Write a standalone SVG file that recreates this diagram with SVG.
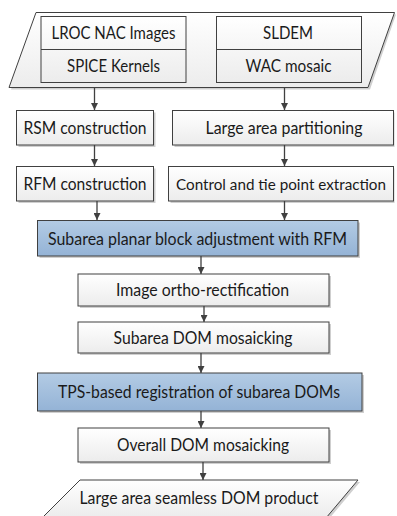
<svg xmlns="http://www.w3.org/2000/svg" width="397" height="516" viewBox="0 0 397 516">
<defs>
<linearGradient id="gw" x1="0" y1="0" x2="0" y2="1">
<stop offset="0" stop-color="#ffffff"/>
<stop offset="1" stop-color="#ececec"/>
</linearGradient>
<linearGradient id="gb" x1="0" y1="0" x2="0" y2="1">
<stop offset="0" stop-color="#b3cbe4"/>
<stop offset="1" stop-color="#94b3d6"/>
</linearGradient>
<marker id="ah" viewBox="0 0 10 10" refX="10" refY="5" markerWidth="7" markerHeight="7" markerUnits="userSpaceOnUse" orient="auto">
<path d="M0,0 L10,5 L0,10 Z" fill="#404040"/>
</marker>
</defs>
<style>
.box{fill:url(#gw);stroke:#404040;stroke-width:1}
.blue{fill:url(#gb);stroke:#404040;stroke-width:1}
.sh{fill:#cfcfcf}
.t{font-family:Lato,"Liberation Sans",sans-serif;font-size:17px;fill:#1a1a1a;text-anchor:middle}
.c{stroke:#404040;stroke-width:1.3;fill:none;marker-end:url(#ah)}
</style>
<rect width="397" height="516" fill="#ffffff"/>

<g id="inputs">
<polygon class="sh" points="38,14.5 396,14.5 370,89.5 11,89.5"/>
<polygon class="box" points="36,12.5 394.5,12.5 368,87.5 9,87.5"/>
<rect class="box" x="41" y="16.5" width="145" height="66"/>
<line x1="41" y1="49.5" x2="186" y2="49.5" stroke="#404040"/>
<rect class="box" x="216.5" y="16.5" width="145" height="66"/>
<line x1="216.5" y1="49.5" x2="361.5" y2="49.5" stroke="#404040"/>
<text class="t" x="113.5" y="39" textLength="124" lengthAdjust="spacingAndGlyphs">LROC NAC Images</text>
<text class="t" x="113.5" y="72" textLength="93" lengthAdjust="spacingAndGlyphs">SPICE Kernels</text>
<text class="t" x="288" y="39" textLength="50" lengthAdjust="spacingAndGlyphs">SLDEM</text>
<text class="t" x="288.5" y="72" textLength="86" lengthAdjust="spacingAndGlyphs">WAC mosaic</text>
</g>

<g id="rsm">
<rect class="sh" x="18.5" y="112.5" width="137" height="34.5"/>
<rect class="box" x="16.5" y="110.5" width="137" height="34.5"/>
<text class="t" x="85" y="133.5" textLength="123" lengthAdjust="spacingAndGlyphs">RSM construction</text>
</g>
<g id="partition">
<rect class="sh" x="174.5" y="112.5" width="220" height="34.5"/>
<rect class="box" x="172.5" y="110.5" width="221" height="34.5"/>
<text class="t" x="284" y="133.5" textLength="157" lengthAdjust="spacingAndGlyphs">Large area partitioning</text>
</g>
<g id="rfm">
<rect class="sh" x="18.5" y="168.5" width="137" height="34.5"/>
<rect class="box" x="16.5" y="166.5" width="137" height="34.5"/>
<text class="t" x="85" y="189.5" textLength="123" lengthAdjust="spacingAndGlyphs">RFM construction</text>
</g>
<g id="control">
<rect class="sh" x="170.5" y="168.5" width="224" height="34.5"/>
<rect class="box" x="168.5" y="166.5" width="225" height="34.5"/>
<text class="t" x="281" y="189.5" style="font-size:15.5px" textLength="210" lengthAdjust="spacingAndGlyphs">Control and tie point extraction</text>
</g>
<g id="adjust">
<rect class="sh" x="39.5" y="222.5" width="320.5" height="35.5"/>
<rect class="blue" x="37.5" y="220.5" width="320.5" height="35.5"/>
<text class="t" x="197.5" y="245" textLength="299" lengthAdjust="spacingAndGlyphs">Subarea planar block adjustment with RFM</text>
</g>
<g id="ortho">
<rect class="sh" x="80" y="276" width="251" height="32"/>
<rect class="box" x="78" y="274" width="251" height="32"/>
<text class="t" x="202.5" y="296" textLength="173" lengthAdjust="spacingAndGlyphs">Image ortho-rectification</text>
</g>
<g id="submosaic">
<rect class="sh" x="80" y="324" width="251" height="31"/>
<rect class="box" x="78" y="322" width="251" height="31"/>
<text class="t" x="203" y="344" textLength="179" lengthAdjust="spacingAndGlyphs">Subarea DOM mosaicking</text>
</g>
<g id="tps">
<rect class="sh" x="39.5" y="375" width="324.5" height="38"/>
<rect class="blue" x="37.5" y="373" width="324.5" height="38"/>
<text class="t" x="199" y="397.5" textLength="282" lengthAdjust="spacingAndGlyphs">TPS-based registration of subarea DOMs</text>
</g>
<g id="overall">
<rect class="sh" x="80" y="430" width="251" height="34"/>
<rect class="box" x="78" y="428" width="251" height="34"/>
<text class="t" x="203" y="450.5" textLength="172" lengthAdjust="spacingAndGlyphs">Overall DOM mosaicking</text>
</g>
<g id="product">
<polygon class="sh" points="82,482 360,482 328,520 44,520"/>
<polygon class="box" points="80,480 358,480 326,518 42,518"/>
<text class="t" x="199" y="504" textLength="239" lengthAdjust="spacingAndGlyphs">Large area seamless DOM product</text>
</g>

<g id="connectors">
<line class="c" x1="94.5" y1="88" x2="94.5" y2="110"/>
<line class="c" x1="284.5" y1="88" x2="284.5" y2="110"/>
<line class="c" x1="94.5" y1="145" x2="94.5" y2="166"/>
<line class="c" x1="284.5" y1="145" x2="284.5" y2="166"/>
<line class="c" x1="97" y1="201" x2="97" y2="220"/>
<line class="c" x1="284.5" y1="201" x2="284.5" y2="220"/>
<line class="c" x1="201" y1="256" x2="201" y2="274"/>
<line class="c" x1="204" y1="306" x2="204" y2="322"/>
<line class="c" x1="201" y1="353" x2="201" y2="373"/>
<line class="c" x1="201" y1="411" x2="201" y2="428"/>
<line class="c" x1="203" y1="462" x2="203" y2="480"/>
</g>
</svg>
